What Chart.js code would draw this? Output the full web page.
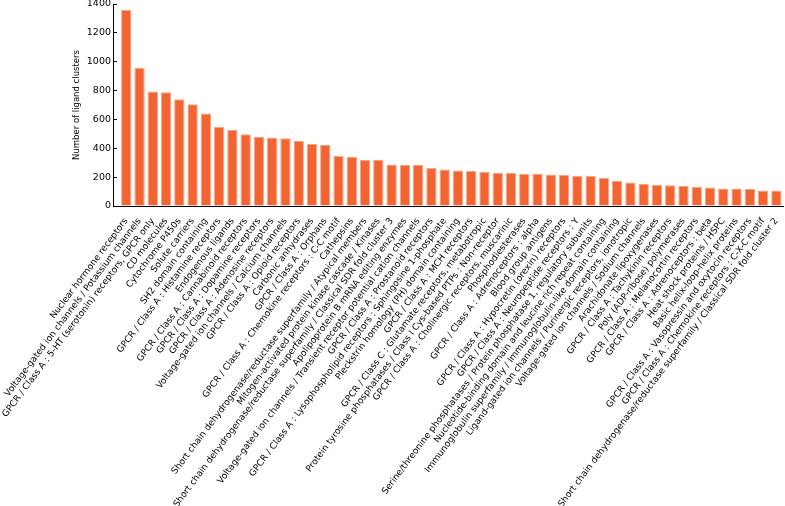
<!DOCTYPE html>
<html>
<head>
<meta charset="utf-8">
<script src="https://cdn.jsdelivr.net/npm/chart.js@4"></script>
<style>
  html, body { margin: 0; padding: 0; background: #fff; }
  #wrap { width: 785px; height: 506px; }
</style>
</head>
<body>
<div id="wrap"><canvas id="grafico"></canvas></div>
<script>
const categorias = [
    "Nuclear hormone receptors",
    "Voltage-gated ion channels / Potassium channels",
    "GPCR / Class A : 5-HT (serotonin) receptors, GPCR only",
    "CD molecules",
    "Cytochrome P450s",
    "Solute carriers",
    "SH2 domain containing",
    "GPCR / Class A : Histamine receptors",
    "Endogenous ligands",
    "GPCR / Class A : Cannabinoid receptors",
    "GPCR / Class A : Dopamine receptors",
    "GPCR / Class A : Adenosine receptors",
    "Voltage-gated ion channels / Calcium channels",
    "GPCR / Class A : Opioid receptors",
    "Carbonic anhydrases",
    "GPCR / Class A : Orphans",
    "GPCR / Class A : Chemokine receptors : C-C motif",
    "Cathepsins",
    "Short chain dehydrogenase/reductase superfamily / Atypical members",
    "Mitogen-activated protein kinase cascade / Kinases",
    "Short chain dehydrogenase/reductase superfamily / Classical SDR fold cluster 3",
    "Apolipoprotein B mRNA editing enzymes",
    "Voltage-gated ion channels / Transient receptor potential cation channels",
    "GPCR / Class A : Prostanoid receptors",
    "GPCR / Class A : Lysophospholipid receptors : Sphingosine 1-phosphate",
    "Pleckstrin homology (PH) domain containing",
    "GPCR / Class A : MCH receptors",
    "GPCR / Class C : Glutamate receptors, metabotropic",
    "Protein tyrosine phosphatases / Class I Cys-based PTPs : Non-receptor",
    "GPCR / Class A : Cholinergic receptors, muscarinic",
    "Phosphodiesterases",
    "GPCR / Class A : Adrenoceptors : alpha",
    "Blood group antigens",
    "GPCR / Class A : Hypocretin (orexin) receptors",
    "GPCR / Class A : Neuropeptide receptors : Y",
    "Serine/threonine phosphatases / Protein phosphatase 1, regulatory subunits",
    "Nucleotide-binding domain and leucine rich repeat containing",
    "Immunoglobulin superfamily / Immunoglobulin-like domain containing",
    "Ligand-gated ion channels / Purinergic receptors, ionotropic",
    "Voltage-gated ion channels / Sodium channels",
    "Arachidonate lipoxygenases",
    "GPCR / Class A : Tachykinin receptors",
    "Poly (ADP-ribose) polymerases",
    "GPCR / Class A : Melanocortin receptors",
    "GPCR / Class A : Adrenoceptors : beta",
    "Heat shock proteins / HSPC",
    "Basic helix-loop-helix proteins",
    "GPCR / Class A : Vasopressin and oxytocin receptors",
    "GPCR / Class A : Chemokine receptors : C-X-C motif",
    "Short chain dehydrogenase/reductase superfamily / Classical SDR fold cluster 2"
];

const clusters = [
    1358, 957, 793, 788, 740, 706, 641, 549, 528, 498,
    480, 475, 470, 450, 429, 424, 348, 341, 320, 320,
    288, 284, 284, 263, 253, 246, 242, 235, 230, 230,
    224, 224, 219, 214, 210, 210, 194, 175, 163, 152,
    147, 143, 138, 134, 129, 122, 122, 118, 108, 108
];

const ticksY = [0, 200, 400, 600, 800, 1000, 1200, 1400];

// x linear para deixar o espaço à esquerda como no original
const pontos = clusters.map((v, i) => ({ x: i, y: v }));

new Chart(document.getElementById('grafico'), {
    type: 'bar',
    data: {
        datasets: [{
            label: 'Number of ligand clusters',
            data: pontos,
            backgroundColor: '#f26532',
            borderColor: '#f8a584',
            borderWidth: 1,
            categoryPercentage: 1,
            barPercentage: 0.78
        }]
    },
    options: {
        responsive: true,
        maintainAspectRatio: false,
        animation: false,
        layout: { padding: { top: 4, right: 2, left: 0, bottom: 0 } },
        plugins: { legend: { display: false }, tooltip: { enabled: false } },
        scales: {
            x: {
                type: 'linear',
                offset: false,
                min: -1,
                max: 49.5,
                afterBuildTicks: (scale) => {
                    scale.ticks = categorias.map((_, i) => ({ value: i }));
                },
                afterFit: (scale) => {
                    scale.height = 300;
                    scale.paddingLeft = 0;
                    scale.paddingRight = 0;
                },
                grid: { display: false },
                border: { display: true, color: '#000', width: 1 },
                ticks: {
                    autoSkip: false,
                    minRotation: 53,
                    maxRotation: 53,
                    padding: 2,
                    color: '#000',
                    font: { family: 'DejaVu Sans', size: 9 },
                    callback: (v) => categorias[v]
                }
            },
            y: {
                min: 0,
                max: 1400,
                afterBuildTicks: (scale) => {
                    scale.ticks = ticksY.map(v => ({ value: v }));
                },
                afterFit: (scale) => {
                    scale.width = 113;
                    scale.paddingTop = 0;
                    scale.paddingBottom = 0;
                },
                grid: {
                    drawOnChartArea: false,
                    drawTicks: true,
                    tickLength: -4,
                    color: '#000'
                },
                border: { display: true, color: '#000', width: 1 },
                title: {
                    display: true,
                    text: 'Number of ligand clusters',
                    color: '#000',
                    font: { family: 'DejaVu Sans', size: 8.5 },
                    padding: { top: 72, bottom: 0 }
                },
                ticks: {
                    color: '#000',
                    padding: 6,
                    font: { family: 'DejaVu Sans', size: 9.5 },
                    callback: (v) => String(v)
                }
            }
        }
    }
});
</script>
</body>
</html>
